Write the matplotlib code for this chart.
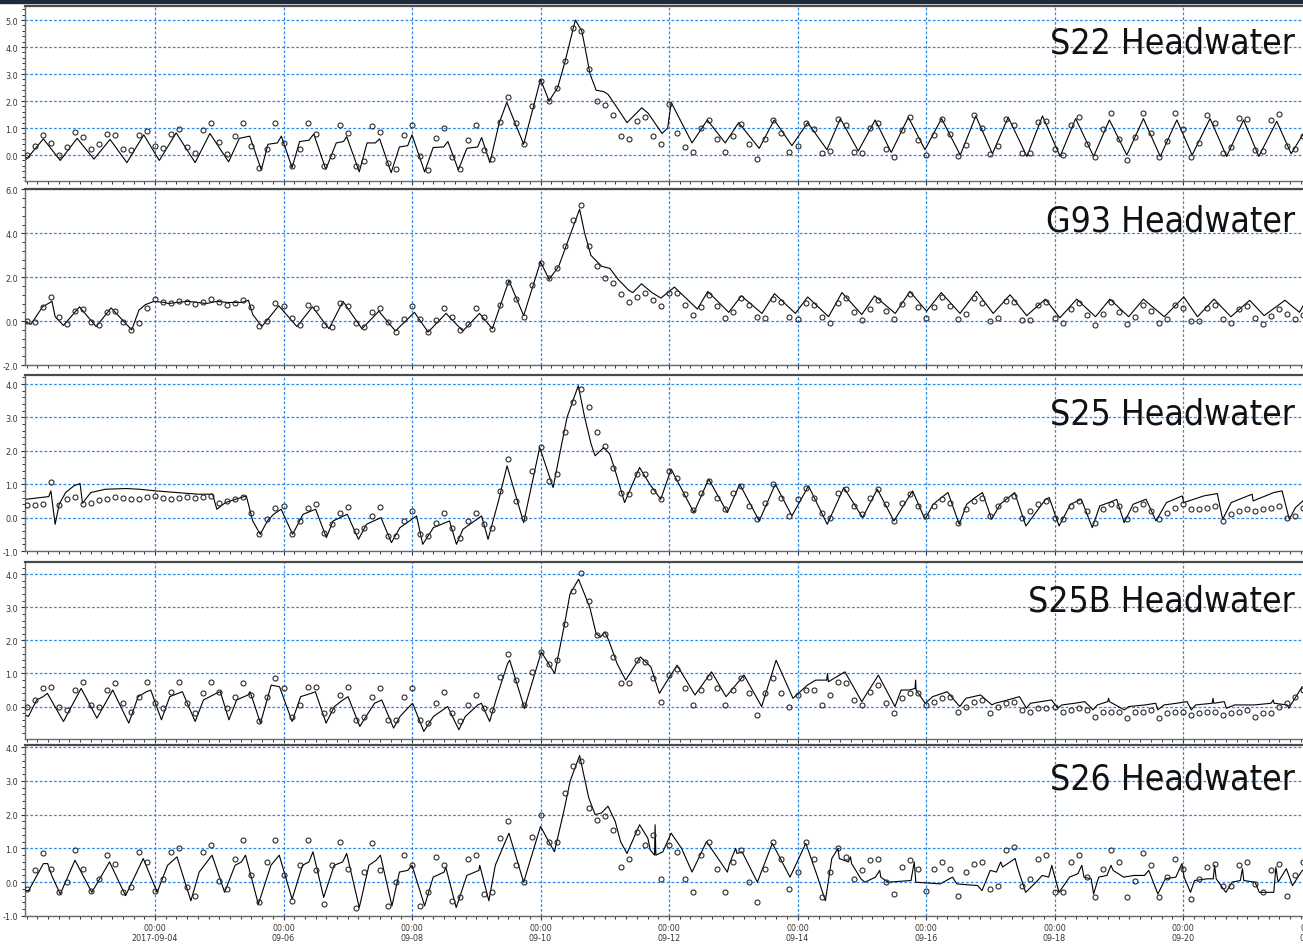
import matplotlib.pyplot as plt
import matplotlib.dates as mdates
import matplotlib.ticker as mticker
from matplotlib.patches import Rectangle
import numpy as np

t0 = np.datetime64('2017-09-02T00:00')

# observed headwater stage, one value every 3 hours from 2017-09-02 00:00
s22_obs = [
    0.0, 0.35, 0.74, 0.46, 0.02, 0.29, 0.86, 0.68,
    0.21, 0.4, 0.78, 0.75, 0.24, 0.17, 0.75, 0.89,
    0.34, 0.28, 0.79, 0.97, 0.3, 0.06, 0.92, 1.19,
    0.48, 0.05, 0.72, 1.18, 0.35, -0.48, 0.21, 1.2,
    0.45, -0.4, 0.24, 1.17, 0.79, -0.41, -0.03, 1.13,
    0.82, -0.41, -0.23, 1.06, 0.85, -0.3, -0.52, 0.74,
    1.11, -0.02, -0.57, 0.62, 1.0, -0.06, -0.5, 0.54,
    1.13, 0.17, -0.13, 1.21, 2.15, 1.19, 0.4, 1.82,
    2.75, 2.0, 2.5, 3.5, 4.7, 4.6, 3.2, 2.0,
    1.85, 1.5, 0.7, 0.6, 1.25, 1.4, 0.7, 0.4,
    1.9, 0.8, 0.3, 0.1, 1.0, 1.3, 0.59, 0.1,
    0.71, 1.15, 0.42, -0.15, 0.58, 1.3, 0.81, 0.12,
    0.35, 1.17, 0.95, 0.08, 0.16, 1.33, 1.11, 0.1,
    0.07, 1.0, 1.2, 0.21, -0.07, 0.94, 1.42, 0.54,
    0.02, 0.76, 1.35, 0.79, -0.03, 0.36, 1.47, 1.0,
    0.05, 0.33, 1.35, 1.1, 0.06, 0.09, 1.21, 1.26,
    0.23, 0.01, 1.1, 1.42, 0.41, -0.07, 0.97, 1.57,
    0.59, -0.2, 0.68, 1.55, 0.82, -0.07, 0.53, 1.57,
    0.97, -0.07, 0.44, 1.5, 1.19, 0.06, 0.31, 1.39,
    1.35, 0.2, 0.15, 1.29, 1.52, 0.32, 0.23, 0.7,
]
g93_obs = [
    0.0, -0.04, 0.65, 1.1, 0.2, -0.12, 0.47, 0.57,
    -0.04, -0.19, 0.4, 0.47, -0.03, -0.39, -0.09, 0.61,
    1.0, 0.85, 0.83, 0.93, 0.88, 0.77, 0.85, 1.0,
    0.85, 0.75, 0.83, 0.94, 0.64, -0.21, 0.0, 0.82,
    0.67, 0.13, -0.19, 0.74, 0.61, -0.16, -0.27, 0.82,
    0.7, -0.1, -0.28, 0.4, 0.59, -0.05, -0.5, 0.1,
    0.7, 0.1, -0.5, 0.05, 0.6, 0.19, -0.4, -0.15,
    0.58, 0.2, -0.35, 0.72, 1.8, 1.0, 0.2, 1.65,
    2.65, 1.95, 2.4, 3.4, 4.6, 5.3, 3.4, 2.5,
    1.95, 1.75, 1.25, 0.85, 1.1, 1.3, 0.95, 0.7,
    1.3, 1.27, 0.72, 0.28, 0.64, 1.2, 0.7, 0.15,
    0.43, 1.05, 0.74, 0.2, 0.15, 1.0, 0.89, 0.21,
    0.09, 0.81, 0.75, 0.21, -0.1, 0.84, 1.05, 0.43,
    0.05, 0.56, 0.95, 0.47, 0.1, 0.76, 1.25, 0.63,
    0.15, 0.63, 1.1, 0.69, 0.1, 0.33, 1.07, 0.84,
    -0.01, 0.15, 0.9, 0.88, 0.07, 0.03, 0.73, 0.87,
    0.13, -0.1, 0.53, 0.83, 0.26, -0.2, 0.33, 0.85,
    0.41, -0.13, 0.18, 0.73, 0.46, -0.1, 0.09, 0.73,
    0.6, 0.02, 0.01, 0.61, 0.73, 0.09, -0.09, 0.53,
    0.7, 0.14, -0.15, 0.24, 0.55, 0.33, 0.1, 0.3,
]
s25_obs = [
    0.38, 0.38, 0.42, 1.07, 0.37, 0.55, 0.63, 0.42,
    0.45, 0.52, 0.57, 0.62, 0.6, 0.57, 0.56, 0.62,
    0.65, 0.58, 0.56, 0.6, 0.62, 0.6, 0.62, 0.66,
    0.45, 0.5, 0.56, 0.62, 0.15, -0.5, -0.05, 0.3,
    0.35, -0.5, -0.1, 0.3, 0.4, -0.45, -0.2, 0.15,
    0.33, -0.4, -0.3, 0.05, 0.33, -0.55, -0.55, -0.1,
    0.2, -0.5, -0.55, -0.15, 0.15, -0.3, -0.6, -0.1,
    0.15, -0.2, -0.3, 0.8, 1.75, 0.5, 0.0, 1.4,
    2.1, 1.1, 1.3, 2.55, 3.45, 3.85, 3.3, 2.55,
    2.15, 1.5, 0.75, 0.7, 1.3, 1.3, 0.8, 0.55,
    1.4, 1.2, 0.7, 0.22, 0.75, 1.1, 0.6, 0.25,
    0.75, 0.95, 0.35, -0.05, 0.45, 1.0, 0.6, 0.05,
    0.55, 0.9, 0.6, 0.15, 0.0, 0.75, 0.85, 0.35,
    0.1, 0.6, 0.85, 0.4, -0.1, 0.45, 0.7, 0.35,
    0.05, 0.35, 0.55, 0.45, -0.15, 0.25, 0.5, 0.6,
    0.05, 0.35, 0.55, 0.65, 0.0, 0.2, 0.4, 0.5,
    0.0, -0.05, 0.35, 0.5, 0.2, -0.15, 0.25, 0.4,
    0.35, -0.05, 0.25, 0.4, 0.2, -0.05, 0.15, 0.3,
    0.4, 0.25, 0.25, 0.3, 0.35, -0.1, 0.1, 0.2,
    0.25, 0.2, 0.25, 0.3, 0.35, 0.0, 0.05, 0.3,
]
s25b_obs = [
    0.0, 0.2, 0.55, 0.6, 0.0, -0.1, 0.5, 0.75,
    0.05, 0.0, 0.5, 0.7, 0.1, -0.15, 0.3, 0.75,
    0.1, -0.05, 0.45, 0.75, 0.1, -0.2, 0.4, 0.75,
    0.45, -0.05, 0.3, 0.7, 0.35, -0.45, 0.3, 0.85,
    0.55, -0.3, 0.05, 0.6, 0.6, -0.2, -0.1, 0.35,
    0.6, -0.4, -0.3, 0.3, 0.55, -0.4, -0.4, 0.3,
    0.55, -0.4, -0.5, 0.1, 0.45, -0.2, -0.45, 0.05,
    0.35, -0.05, -0.1, 0.9, 1.6, 0.8, 0.05, 1.05,
    1.65, 1.3, 1.4, 2.5, 3.5, 4.05, 3.2, 2.15,
    2.2, 1.5, 0.7, 0.7, 1.4, 1.35, 0.85, 0.15,
    0.95, 1.15, 0.55, 0.05, 0.5, 0.9, 0.55, 0.05,
    0.5, 0.85, 0.4, -0.25, 0.4, 0.85, 0.4, 0.0,
    0.35, 0.5, 0.5, 0.05, 0.35, 0.75, 0.7, 0.2,
    0.05, 0.45, 0.65, 0.1, -0.2, 0.25, 0.4, 0.4,
    0.05, 0.15, 0.25, 0.3, -0.15, 0.0, 0.15, 0.2,
    -0.2, 0.0, 0.1, 0.15, -0.1, -0.15, -0.05, -0.05,
    0.0, -0.15, -0.1, -0.05, -0.1, -0.3, -0.15, -0.15,
    -0.15, -0.35, -0.15, -0.15, -0.1, -0.35, -0.2, -0.15,
    -0.15, -0.25, -0.2, -0.15, -0.15, -0.25, -0.2, -0.15,
    -0.1, -0.3, -0.2, -0.2, 0.0, 0.1, 0.3, 0.5,
]
s26_obs = [
    -0.2, 0.35, 0.85, 0.4, -0.3, 0.0, 0.95, 0.4,
    -0.25, 0.1, 0.8, 0.55, -0.3, -0.15, 0.9, 0.6,
    -0.25, 0.1, 0.9, 1.0, -0.15, -0.4, 0.9, 1.1,
    0.05, -0.2, 0.7, 1.25, 0.2, -0.6, 0.6, 1.25,
    0.2, -0.55, 0.5, 1.25, 0.35, -0.65, 0.5, 1.2,
    0.4, -0.75, 0.3, 1.15, 0.35, -0.7, 0.0, 0.8,
    0.5, -0.7, -0.3, 0.75, 0.5, -0.55, -0.45, 0.7,
    0.8, -0.35, -0.3, 1.3, 1.8, 0.5, 0.0, 1.35,
    2.0, 1.2, 1.2, 2.65, 3.45, 3.6, 2.2, 1.85,
    1.95, 1.55, 0.45, 0.7, 1.5, 1.1, 1.4, 0.1,
    1.1, 0.9, 0.1, -0.3, 0.8, 1.2, 0.4, -0.3,
    0.6, 0.95, 0.0, -0.6, 0.4, 1.2, 0.7, -0.2,
    0.3, 1.2, 0.7, -0.45, 0.3, 1.0, 0.75, 0.1,
    0.35, 0.65, 0.7, 0.0, -0.35, 0.45, 0.65, 0.4,
    -0.25, 0.4, 0.6, 0.4, -0.4, 0.3, 0.55, 0.6,
    -0.2, -0.1, 0.95, 1.05, -0.1, 0.1, 0.7, 0.8,
    -0.3, -0.3, 0.6, 0.8, 0.15, -0.45, 0.4, 0.95,
    0.6, -0.45, 0.05, 0.85, 0.5, -0.45, 0.15, 0.7,
    0.4, -0.5, 0.1, 0.45, 0.55, -0.1, -0.1, 0.5,
    0.6, -0.05, -0.3, 0.35, 0.55, -0.4, 0.2, 0.6,
]

# simulated stage: hours after 2017-09-02 00:00 and value
s22_sim_h = [0, 6.3, 12.6, 18.9, 25.2, 31.2, 37.5, 43.8, 49.6, 55.9, 63, 68.5, 75.5,
             79.5, 83.4, 87.7, 90.2, 93.7, 95.2, 99.2, 102, 105.5, 107.3, 111.8,
             115.7, 118.4, 119.6, 124.3, 127.2, 130.3, 131.9, 136.2, 139.3, 142.4,
             144, 148.7, 151.9, 155.8, 157.4, 161.3, 164.5, 168.5, 170, 173.1,
             176.6, 179.4, 185.7, 192, 195.2, 198.4, 201, 205, 207.4, 208.6, 210.5,
             212.8, 215.6, 217.2, 220.3, 224.3, 229.8, 232.2, 237.4, 239.5, 240.8,
             248.6, 254.3, 261, 266, 273.7, 279.3, 285.9, 291.8, 299, 304, 310.7,
             317, 323, 329.4, 335.6, 341.8, 348.8, 354.6, 360.8, 366.7, 373.7,
             379.5, 386.1, 391.9, 398.6, 404.5, 411, 417.2, 423.5, 429.7, 435.4,
             442.1, 448.3, 454.6, 460.3, 467, 472.4, 477, 479]
s22_sim = [-0.15, 0.6, -0.2, 0.62, -0.15, 0.58, -0.28, 0.75, -0.2, 0.82, -0.28, 0.8, -0.25,
           0.62, 0.7, -0.55, 0.4, 0.45, 0.7, -0.47, 0.5, 0.55, 0.78, -0.53,
           0.45, 0.5, 0.68, -0.62, 0.45, 0.45, 0.6, -0.65, 0.3, 0.35,
           0.75, -0.62, 0.28, 0.3, 0.5, -0.55, 0.25, 0.3, 0.65, -0.28,
           1.2, 1.95, 0.4, 2.8, 2.0, 2.5, 3.4, 5.0, 4.6, 4.0, 3.0,
           2.4, 2.35, 2.25, 1.8, 1.2, 1.75, 1.55, 0.8, 1.0, 1.95,
           0.45, 1.3, 0.45, 1.2, 0.25, 1.3, 0.35, 1.2, 0.2, 1.35, 0.15,
           1.3, 0.1, 1.4, 0.2, 1.35, 0.0, 1.45, 0.05, 1.4, -0.05,
           1.45, -0.05, 1.35, -0.05, 1.3, 0.0, 1.35, -0.05, 1.3, 0.0,
           1.35, -0.05, 1.3, -0.05, 1.25, 0.05, 0.8, 1.2]

g93_sim_h = [0, 1.6, 6, 8.8, 9.5, 10.7, 13.8, 19.8, 26, 31.6, 39.3, 42, 44.4, 47.6,
             51.5, 53, 56.2, 60.1, 64, 67.2, 71.1, 75, 80.5, 82.9, 84.5, 87.9, 94.2,
             101, 106.8, 113, 118.2, 125.3, 131.6, 137.8, 144.9, 150, 156.7, 163,
             169.2, 174, 180.2, 185.7, 192, 195.2, 198.8, 206.6, 208.5, 210.8, 214.8,
             217.9, 221, 225, 226.5, 229.7, 233.6, 237, 242, 250.6, 254.5, 262.3,
             267, 274.7, 279.4, 287.2, 291.8, 299.6, 304.6, 312, 316.8, 324.5, 330,
             336.2, 341.7, 348.7, 354.9, 361.1, 367.4, 373.6, 380.6, 386, 392.3,
             399.3, 404.7, 411.7, 417.2, 425, 432.3, 437.4, 443.6, 449.9, 456.9,
             462.3, 470.1, 475.5, 478]
g93_sim = [-0.05, -0.15, 0.65, 0.85, 0.9, 0.2, -0.2, 0.65, -0.25, 0.6, -0.4, 0.5, 0.75, 0.9,
           0.85, 0.8, 0.85, 0.9, 0.85, 0.8, 0.9, 0.85, 0.85, 0.95, 0.3, -0.25, 0.7,
           -0.25, 0.65, -0.35, 0.9, -0.35, 0.45, -0.45, 0.4, -0.5, 0.35, -0.45,
           0.35, -0.35, 1.85, 0.25, 2.7, 1.9, 2.5, 5.1, 4.0, 3.0, 2.5,
           2.4, 1.9, 1.4, 1.3, 1.7, 1.3, 1.05, 1.55, 0.55, 1.35, 0.4,
           1.15, 0.35, 1.25, 0.35, 1.1, 0.2, 1.3, 0.3, 1.15, 0.35, 1.35,
           0.45, 1.3, 0.35, 1.35, 0.35, 1.2, 0.25, 1.0, 0.15, 1.0,
           0.2, 1.0, 0.2, 1.0, 0.2, 1.1, 0.2, 1.0, 0.2, 0.95,
           0.25, 0.95, 0.4, 0.95]

s25_sim_h = [0, 8.3, 9.1, 10.7, 12.2, 14.6, 17.7, 20, 20.9, 24, 29.5, 37.4, 42, 48.4,
             56.2, 64, 69.5, 71.1, 74.3, 78.2, 82.1, 84.5, 87.3, 90, 92.3, 95.1, 99.4,
             103.3, 108, 112, 114.5, 119.8, 124, 127, 132.4, 136.3, 139.5, 145.7, 148,
             152, 158, 160.6, 163, 170, 172.4, 176.3, 179.5, 185.7, 191.7, 196.7,
             199.9, 201.9, 206.1, 208.5, 210.9, 212.4, 215.6, 217.9, 220.3, 223.4,
             229, 232.8, 236.9, 240.8, 249.3, 254.8, 261.8, 266.4, 273.7, 279.7,
             285.9, 292.1, 299.1, 305.3, 312.3, 317.8, 324, 331, 335.6, 338.7, 341.8,
             344.2, 348.4, 351.2, 354.3, 357.1, 360.5, 363.7, 366.8, 369.1, 373.3,
             380.7, 382, 385.7, 390, 394, 398.1, 400.9, 406, 407.2, 410, 413.4,
             418.2, 421.9, 425.8, 431.7, 432.3, 439.8, 444.8, 446.8, 450, 456.2,
             457.8, 458.2, 465.9, 469, 471.7, 474, 476.8]
s25_sim = [0.55, 0.63, 0.8, -0.2, 0.4, 0.75, 0.95, 1.02, 0.43, 0.75, 0.85, 0.87, 0.85, 0.8,
           0.75, 0.7, 0.7, 0.25, 0.45, 0.55, 0.65, -0.1, -0.5, -0.1, 0.1, 0.25, -0.5,
           0.1, 0.25, -0.6, -0.1, 0.1, -0.65, -0.2, 0.0, -0.75, -0.3, 0.05, -0.8,
           -0.3, -0.1, -0.8, -0.35, 0.05, -0.65, 0.5, 1.55, -0.15, 2.1, 0.9,
           2.2, 3.0, 3.95, 3.0, 2.2, 1.85, 2.1, 1.9, 1.3, 0.45,
           1.5, 1.0, 0.55, 1.45, 0.15, 1.15, 0.15, 1.0, -0.1, 1.0,
           0.05, 0.95, -0.2, 0.9, 0.0, 0.85, -0.1, 0.8, -0.05, 0.4, 0.6,
           0.75, -0.2, 0.4, 0.6, 0.75, -0.05, 0.4, 0.6, 0.75, -0.25,
           0.55, 0.6, -0.25, 0.4, 0.55, -0.3, 0.35, 0.5, 0.55, -0.15, 0.4,
           0.55, -0.1, 0.45, 0.65, 0.45, 0.65, 0.72, -0.05, 0.45, 0.65,
           0.7, 0.5, 0.75, 0.8, -0.05, 0.3, 0.5]

s25b_sim_h = [0, 0.7, 3.8, 6.2, 7.8, 10.6, 13.8, 20.4, 26.3, 32.2, 38.2, 41.7, 44.8, 46.4,
              50.4, 53.5, 58.2, 63, 66.1, 70.9, 72.4, 75.6, 78.5, 82.7, 83.5, 87.4,
              91.4, 94.5, 99.2, 102.4, 106.3, 107.9, 111.9, 115, 118.2, 120.1, 124.5,
              127.6, 130, 132.7, 137.1, 139.5, 141.8, 144.2, 148.4, 152, 157.3, 161.5,
              163.9, 168.6, 169.9, 173, 175.7, 179.7, 180.5, 186, 192.3, 197.3, 201,
              203, 206.2, 210.4, 212.8, 214.4, 216, 217.5, 220.6, 223.8, 229.3, 233.2,
              236.4, 238.7, 243, 249.7, 255.9, 261.3, 268, 274.6, 280, 286.3, 291.7,
              294.8, 298.9, 299.2, 299.5, 305.7, 312, 318.2, 324.4, 326.7, 329.9,
              331.9, 332.1, 332.3, 335.7, 338.5, 343.9, 348.6, 350.9, 356.4, 360.6,
              361.8, 366.5, 370.9, 373.5, 375, 378.9, 382.9, 385.2, 386.8, 391.5,
              395.3, 398.4, 400, 403.9, 404.2, 404.5, 410.1, 411.7, 417.9, 421.8,
              422.6, 424.9, 429.6, 433.5, 435.1, 436.7, 442.9, 443.2, 443.5, 447.4,
              448.2, 451.3, 458.7, 464.9, 465.7, 466, 470.9, 471.5, 474.2, 476.5]
s25b_sim = [-0.27, -0.3, 0.2, 0.3, 0.4, 0.0, -0.45, 0.55, -0.35, 0.5, -0.5, 0.3, 0.45, 0.5,
            -0.4, 0.3, 0.45, -0.45, 0.2, 0.4, 0.45, -0.4, 0.2, 0.35, 0.45, -0.5,
            0.65, 0.6, -0.45, 0.3, 0.4, 0.45, -0.5, 0.0, 0.2, 0.3, -0.6,
            -0.2, 0.1, 0.2, -0.65, -0.3, -0.1, 0.1, -0.75, -0.3, 0.0, -0.7,
            -0.3, 0.05, 0.1, -0.45, 0.3, 1.3, 1.4, -0.05, 1.65, 1.0, 2.5,
            3.4, 3.85, 3.0, 2.2, 2.1, 2.25, 2.0, 1.3, 0.8, 1.5, 1.2,
            0.4, 0.7, 1.25, 0.35, 1.05, 0.3, 0.95, 0.0, 1.4, 0.25, 0.65,
            0.8, 0.8, 1.0, 0.75, 1.05, 0.15, 0.95, 0.0, 0.5, 0.5,
            0.55, 0.8, 0.5, 0.1, 0.3, 0.45, 0.0, 0.25, 0.35, 0.05,
            0.1, 0.2, 0.3, -0.05, 0.1, 0.15, 0.2, -0.05, 0.05, 0.1,
            0.15, -0.1, 0.05, 0.15, 0.25, 0.15, -0.1, 0.0, 0.05, 0.1,
            -0.1, 0.05, 0.1, 0.15, -0.1, 0.05, 0.1, 0.25, 0.1, 0.15,
            -0.05, 0.05, 0.05, 0.1, 0.2, 0.1, 0.05, -0.05, 0.3, 0.6]

s26_sim_h = [0, 0.8, 6.3, 7.9, 9.4, 12.6, 18.1, 24.4, 31, 37, 43.6, 48.8, 52.7, 56.2,
             61.4, 64.5, 66.9, 69.3, 74, 77.9, 80.3, 81.8, 86.6, 91.3, 94.4, 99.2,
             103.1, 105.5, 107, 111, 114.9, 118.1, 119.6, 124.3, 127.9, 130.6, 132.2,
             136.5, 139.3, 142.4, 144, 148.7, 151.9, 156, 156.6, 160.5, 164.5, 169,
             169.3, 172.7, 175.1, 180.2, 185.7, 192, 194.4, 197.2, 200.7, 203.1,
             206.6, 210, 212.4, 214.8, 217.2, 219.9, 221.9, 224.3, 229, 232.1, 233,
             234.6, 234.8, 235.1, 237.7, 240.8, 244.7, 248.6, 254, 261.8, 262.6,
             264.1, 264.9, 265.4, 267.3, 273, 278.6, 285.2, 291.1, 295.3, 298.4,
             300.8, 303.1, 303.6, 307, 307.8, 308.2, 311.7, 313.2, 317.1, 318.7,
             319.1, 321.8, 330.4, 331.6, 332.2, 341.3, 345.9, 347.5, 355.3, 356.9,
             360, 362.3, 363.9, 364.6, 369.3, 370.1, 373.2, 377.1, 379.4, 381.8,
             383, 383.6, 385.7, 389.6, 392.7, 394.2, 395, 397.7, 398.6, 400.5,
             403.6, 405.1, 405.9, 409.8, 413.7, 417.6, 419.2, 422.6, 425.4, 429.3,
             431.6, 432.4, 434.8, 436.3, 441, 443.3, 443.8, 444.4, 448, 450.3,
             453.4, 454.2, 454.7, 458.9, 460.5, 462.8, 465.9, 466.7, 467.5, 470.6,
             472.9, 475.3, 476.6]
s26_sim = [-0.25, -0.25, 0.55, 0.55, 0.2, -0.35, 0.65, -0.3, 0.6, -0.4, 0.7, -0.3, 0.5, 0.75,
           -0.55, 0.3, 0.55, 0.8, -0.3, 0.5, 0.6, 0.8, -0.65, 0.5, 0.8, -0.5,
           0.5, 0.6, 0.9, -0.45, 0.5, 0.6, 0.85, -0.75, 0.5, 0.65, 0.8,
           -0.7, 0.3, 0.35, 0.5, -0.7, 0.15, 0.3, 0.45, -0.75, 0.2, 0.35,
           0.5, -0.55, 0.5, 1.45, 0.0, 1.65, 1.3, 0.9, 2.1, 3.0,
           3.75, 2.5, 2.0, 2.05, 2.25, 1.8, 1.2, 0.85, 1.7, 1.3, 0.95,
           0.8, 1.7, 0.8, 0.9, 1.45, 1.0, 0.3, 1.2, 0.3, 0.55,
           0.85, 1.0, 0.85, 0.9, 0.0, 1.15, 0.15, 1.15, 0.2, -0.55,
           0.7, 1.0, 0.7, 0.6, 0.75, 0.55, 0.1, 0.0, 0.15, 0.35,
           0.15, 0.0, 0.05, 0.6, 0.0, -0.05, 0.15, -0.05, -0.1, -0.25,
           0.35, 0.3, 0.6, 0.45, 0.7, 0.45, -0.3, 0.0, 0.2, 0.15,
           0.5, 0.3, -0.3, 0.15, 0.25, 0.5, 0.15, 0.1, -0.35, 0.15,
           0.2, 0.5, 0.35, 0.15, 0.2, 0.2, 0.35, -0.35, 0.1, 0.15,
           0.55, 0.15, -0.3, 0.05, 0.1, 0.1, 0.5, 0.1, -0.3, 0.0,
           0.05, 0.4, 0.05, 0.0, -0.3, -0.3, -0.3, 0.45, 0.0, 0.4,
           -0.1, 0.2, 0.35]

names = ["S22 Headwater", "G93 Headwater", "S25 Headwater", "S25B Headwater", "S26 Headwater"]
obs_sets = [s22_obs, g93_obs, s25_obs, s25b_obs, s26_obs]
sim_hours = [s22_sim_h, g93_sim_h, s25_sim_h, s25b_sim_h, s26_sim_h]
sim_sets = [s22_sim, g93_sim, s25_sim, s25b_sim, s26_sim]
ylims = [(-0.96, 5.52), (-2.0, 6.02), (-1.0, 4.27), (-0.98, 4.37), (-1.0, 4.06)]
ysteps = [1.0, 2.0, 1.0, 1.0, 1.0]

W, H = 1303, 953
# panel frames in pixels (top, bottom) and label baselines
frames = [(7, 182), (190, 366), (376, 552), (563, 740), (746, 917)]
label_base = [54, 232, 425, 612, 790]
x_left, x_right = 25, 1315

grid_kw = dict(color='#2a8af0', linestyle=(0, (2.2, 1.6)), linewidth=0.9)

fig = plt.figure(figsize=(W / 100, H / 100), dpi=100)
fig.patches.append(Rectangle((0, 1 - 4 / H), 1, 4 / H, transform=fig.transFigure,
                             color='#1c2a3a', zorder=10))

obs_t = t0 + np.arange(len(s22_obs)) * np.timedelta64(180, 'm')
xmin = t0 - np.timedelta64(34, 'm')
xmax = t0 + np.timedelta64(481 * 60 + 18, 'm')
majors = np.arange(np.datetime64('2017-09-04'), np.datetime64('2017-09-23'),
                   np.timedelta64(2, 'D')).astype('datetime64[m]')
maj_labels = ['00:00\n2017-09-04'] + ['00:00\n' + str(d)[5:10] for d in majors[1:]]

for i in range(5):
    top, bot = frames[i]
    ax = fig.add_axes([x_left / W, 1 - bot / H, (x_right - x_left) / W, (bot - top) / H])
    sim_t = t0 + (np.array(sim_hours[i]) * 60).round().astype('timedelta64[m]')
    ax.plot(sim_t, sim_sets[i], color='black', linewidth=0.8, zorder=3)
    ax.plot(obs_t, obs_sets[i], linestyle='none', marker='o', markersize=3.6,
            markerfacecolor='none', markeredgecolor='#2b2b2b', markeredgewidth=0.8, zorder=4)

    lo, hi = ylims[i]
    step = ysteps[i]
    ax.set_ylim(lo, hi)
    ax.set_xlim(xmin, xmax)
    ax.yaxis.set_major_locator(mticker.MultipleLocator(step))
    ax.yaxis.set_minor_locator(mticker.MultipleLocator(step / 5))
    ax.yaxis.set_major_formatter(mticker.FormatStrFormatter('%.1f'))
    ax.set_xticks(majors)
    ax.xaxis.set_minor_locator(mdates.HourLocator(byhour=range(0, 24, 4)))
    if i == 4:
        ax.set_xticklabels(maj_labels)
    else:
        ax.set_xticklabels([])
    for lab in ax.get_xticklabels() + ax.get_yticklabels():
        lab.set_fontstretch('condensed')
    ax.grid(True, which='major', **grid_kw)
    ax.set_axisbelow(True)

    ax.tick_params(axis='both', which='major', direction='out', length=3, width=0.8,
                   color='#333333', labelsize=6.5, labelcolor='#3a3632', pad=2)
    ax.tick_params(axis='both', which='minor', direction='out', length=2.2, width=0.7,
                   color='#333333')
    for s in ax.spines.values():
        s.set_color('#6a6a6a')
        s.set_linewidth(1.0)
    ax.spines['top'].set_color('#4a4a4a')
    ax.spines['top'].set_linewidth(1.6)

    fig.text(1295 / W, 1 - label_base[i] / H, names[i], ha='right', va='baseline',
             fontsize=25.5, color='#111111', fontstretch='condensed',
             family=['DejaVu Sans'])

fig.savefig('out.png', dpi=100)
